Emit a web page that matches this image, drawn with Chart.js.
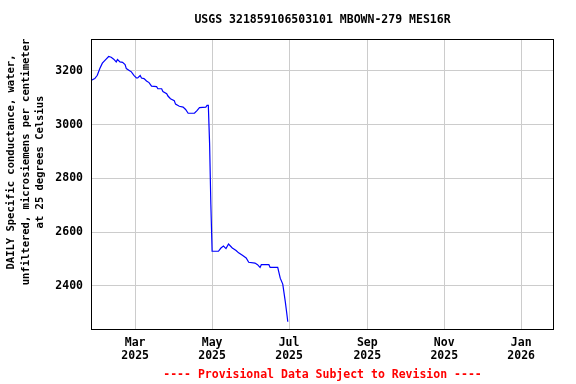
<!DOCTYPE html>
<html>
<head>
<meta charset="utf-8">
<script src="https://cdn.jsdelivr.net/npm/chart.js@4"></script>
<style>
  html, body { margin: 0; padding: 0; background: #fff; }
  canvas { display: block; }
</style>
</head>
<body>
<canvas id="chartLine" width="576" height="384"></canvas>
<script>
// daily specific conductance
var dates = [
    '2025-01-25', '2025-01-28', '2025-01-30', '2025-02-01', '2025-02-03', '2025-02-06',
    '2025-02-08', '2025-02-10', '2025-02-12', '2025-02-14', '2025-02-15', '2025-02-17',
    '2025-02-19', '2025-02-21', '2025-02-22', '2025-02-24', '2025-02-26', '2025-02-28',
    '2025-03-02', '2025-03-03', '2025-03-05', '2025-03-06', '2025-03-08', '2025-03-10',
    '2025-03-12', '2025-03-14', '2025-03-18', '2025-03-19', '2025-03-22', '2025-03-23',
    '2025-03-26', '2025-03-27', '2025-03-29', '2025-04-01', '2025-04-02', '2025-04-05',
    '2025-04-08', '2025-04-10', '2025-04-12', '2025-04-17', '2025-04-19', '2025-04-21',
    '2025-04-26', '2025-04-27', '2025-04-28', '2025-04-29', '2025-04-30', '2025-05-01',
    '2025-05-06', '2025-05-08', '2025-05-10', '2025-05-12', '2025-05-14', '2025-05-17',
    '2025-05-20', '2025-05-22', '2025-05-25', '2025-05-28', '2025-05-30', '2025-06-04',
    '2025-06-06', '2025-06-08', '2025-06-09', '2025-06-15', '2025-06-16', '2025-06-22',
    '2025-06-24', '2025-06-26', '2025-06-28', '2025-06-29', '2025-06-30'
];
var values = [
    3164, 3171, 3183, 3208, 3228, 3243,
    3253, 3250, 3243, 3233, 3242, 3233,
    3231, 3223, 3208, 3202, 3196, 3183,
    3173, 3173, 3182, 3173, 3171, 3162,
    3156, 3143, 3141, 3133, 3133, 3123,
    3115, 3106, 3096, 3089, 3076, 3068,
    3065, 3056, 3042, 3042, 3052, 3063,
    3065, 3071, 3071, 2930, 2704, 2529,
    2529, 2541, 2548, 2539, 2556, 2541,
    2532, 2523, 2514, 2504, 2488, 2485,
    2479, 2469, 2479, 2479, 2469, 2469,
    2429, 2407, 2342, 2305, 2267
];

var tickDates = ['2025-03-01', '2025-05-01', '2025-07-01', '2025-09-01', '2025-11-01', '2026-01-01'];
var tickLabels = [['Mar', '2025'], ['May', '2025'], ['Jul', '2025'], ['Sep', '2025'], ['Nov', '2025'], ['Jan', '2026']];
var yTicks = [2400, 2600, 2800, 3000, 3200];

var chartTitle = 'USGS 321859106503101 MBOWN-279 MES16R';
var yTitle = ['DAILY Specific conductance, water,', 'unfiltered, microsiemens per centimeter', 'at 25 degrees Celsius'];
var footNote = '---- Provisional Data Subject to Revision ----';

// days since epoch, so a linear axis can stand in for a time axis
function dayNum(s) {
    return Date.UTC(+s.slice(0, 4), +s.slice(5, 7) - 1, +s.slice(8, 10)) / 86400000;
}

var points = dates.map(function (d, i) {
    return { x: dayNum(d), y: values[i] };
});
var tickDays = tickDates.map(dayNum);

var MONO = '"DejaVu Sans Mono", "Liberation Mono", monospace';

// title, axis title, footnote and the box round the plot
var textPlugin = {
    id: 'usgsText',
    afterDraw: function (chart) {
        var ctx = chart.ctx;
        var a = chart.chartArea;
        var cx = (a.left + a.right) / 2;
        ctx.save();
        ctx.strokeStyle = '#000';
        ctx.lineWidth = 1;
        ctx.strokeRect(Math.round(a.left) + 0.5, Math.round(a.top) + 0.5,
            Math.round(a.right - a.left) - 1, Math.round(a.bottom - a.top));

        ctx.textAlign = 'center';
        ctx.textBaseline = 'middle';
        ctx.fillStyle = '#000';
        ctx.font = 'bold 11.5px ' + MONO;
        ctx.fillText(chartTitle, cx, 20);

        ctx.fillStyle = '#ff0000';
        ctx.fillText(footNote, cx, 375);

        ctx.fillStyle = '#000';
        ctx.font = 'bold 10.5px ' + MONO;
        var xs = [11, 26, 40];
        for (var i = 0; i < yTitle.length; i++) {
            ctx.save();
            ctx.translate(xs[i], 162);
            ctx.rotate(-Math.PI / 2);
            ctx.fillText(yTitle[i], 0, 0);
            ctx.restore();
        }
        ctx.restore();
    }
};

var ctx = document.getElementById('chartLine').getContext('2d');
var myChart = new Chart(ctx, {
    type: 'line',
    data: {
        datasets: [{
            data: points,
            borderColor: '#0000ff',
            borderWidth: 1.2,
            pointRadius: 0,
            fill: false,
            tension: 0
        }]
    },
    options: {
        responsive: false,
        animation: false,
        layout: { padding: { left: 0, right: 22, top: 39, bottom: 0 } },
        plugins: {
            legend: { display: false },
            tooltip: { enabled: false },
            title: { display: false }
        },
        scales: {
            x: {
                type: 'linear',
                min: dayNum('2025-01-25'),
                max: dayNum('2026-01-27'),
                afterBuildTicks: function (scale) {
                    scale.ticks = tickDays.map(function (v) { return { value: v }; });
                },
                afterFit: function (scale) { scale.height = 55; },
                grid: { color: '#cccccc', lineWidth: 1, drawTicks: false },
                border: { display: false },
                ticks: {
                    padding: 8,
                    maxRotation: 0,
                    autoSkip: false,
                    color: '#000',
                    font: { family: MONO, size: 11.5, weight: 'bold', lineHeight: 1.13 },
                    callback: function (value) {
                        var i = tickDays.indexOf(value);
                        return i >= 0 ? tickLabels[i] : '';
                    }
                }
            },
            y: {
                type: 'linear',
                min: 2240,
                max: 3318,
                afterBuildTicks: function (scale) {
                    scale.ticks = yTicks.map(function (v) { return { value: v }; });
                },
                afterFit: function (scale) { scale.width = 91; },
                grid: { color: '#cccccc', lineWidth: 1, drawTicks: false },
                border: { display: false },
                ticks: {
                    padding: 8,
                    color: '#000',
                    font: { family: MONO, size: 11.5, weight: 'bold' },
                    callback: function (value) { return String(value); }
                }
            }
        }
    },
    plugins: [textPlugin]
});
</script>
</body>
</html>
